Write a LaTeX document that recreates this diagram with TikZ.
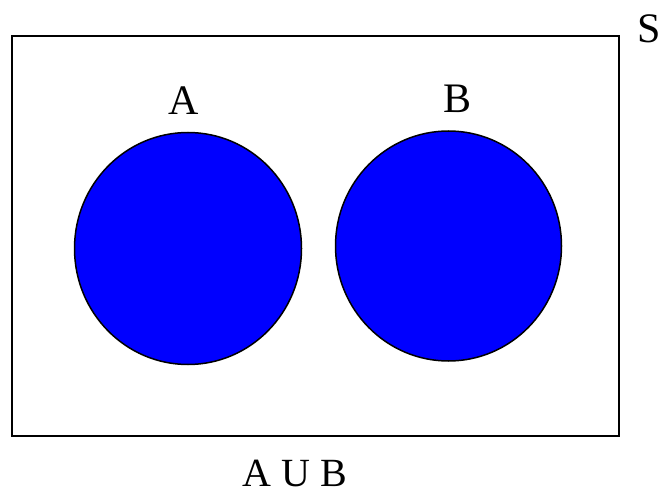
\documentclass[tikz,border=0pt]{standalone}
\usepackage{fontspec}
\setmainfont{Liberation Serif}
\definecolor{setblue}{RGB}{0,0,255}
\begin{document}
\begin{tikzpicture}[x=1pt,y=-1pt,
  setcircle/.style={draw=black,line width=1.5pt,fill=setblue},
  lbl/.style={font=\fontsize{42}{42}\selectfont,inner sep=0pt,anchor=base}]
\useasboundingbox (0,0) rectangle (660,497);
\draw[line width=2pt] (12,36) rectangle (619,436);
\path[setcircle] (188,248.5) ellipse [x radius=113.5, y radius=116];
\path[setcircle] (448.5,246) ellipse [x radius=113, y radius=115];
\node[lbl] (la) at (184,115) {A};
\node[lbl] (lb) at (457,113) {B};
\node[lbl] (ls) at (649,43) {S};
\node[lbl,font=\fontsize{40}{40}\selectfont] (lu) at (295,486) {A U B};
\end{tikzpicture}
\end{document}
